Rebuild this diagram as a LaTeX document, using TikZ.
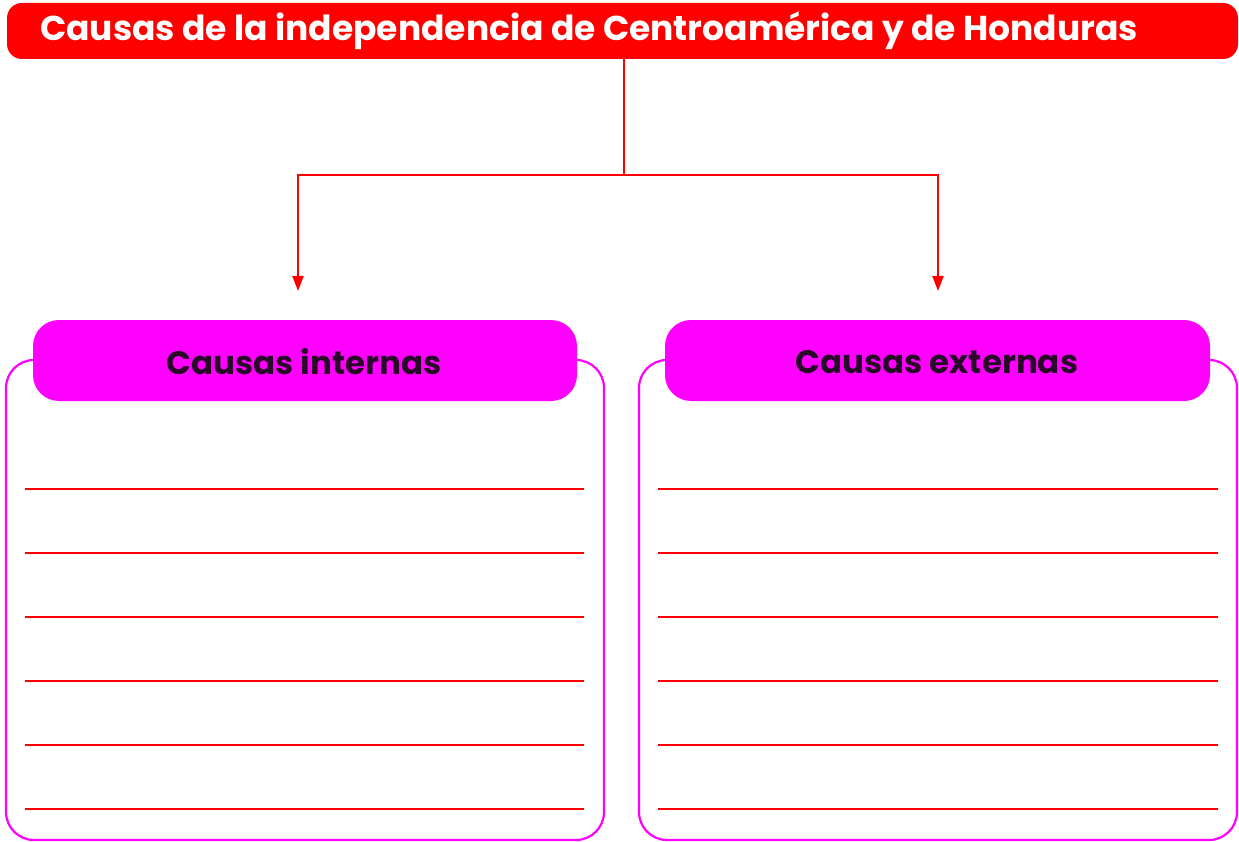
\documentclass[tikz,border=0pt]{standalone}
\usepackage{fontspec}
\setmainfont{Poppins}
\usetikzlibrary{arrows.meta}
\definecolor{tred}{RGB}{255,0,0}
\definecolor{mag}{RGB}{255,0,255}
\definecolor{dtext}{RGB}{40,10,40}
\tikzset{
  x=1pt,y=-1pt,
  titlebox/.style={fill=tred,rounded corners=15pt},
  headbox/.style={fill=mag,rounded corners=26pt},
  outerbox/.style={draw=mag,line width=2.2pt,rounded corners=28pt},
  wline/.style={draw=tred,line width=2pt},
  conn/.style={draw=tred,line width=2pt},
  arr/.style={conn,-{Triangle[length=15pt,width=11pt]}},
}
\begin{document}
\begin{tikzpicture}
\useasboundingbox (0,0) rectangle (1239,842);
% title
\path[titlebox] (7,3) rectangle (1238,59);
\node[font=\fontsize{34.5}{38}\selectfont\bfseries,text=white,anchor=west,inner sep=0pt] (title) at (40,31) {Causas de la independencia de Centroamérica y de Honduras};
\coordinate (tb) at (624,59);
\coordinate (j) at (624,175);
\coordinate (jl) at (298,175);
\coordinate (jr) at (938,175);
\coordinate (al) at (298,291);
\coordinate (ar) at (938,291);
\draw[conn] (tb) -- (j);
\draw[arr] (j) -- (jl) -- (al);
\draw[arr] (j) -- (jr) -- (ar);
% left panel
\draw[outerbox] (6,360) rectangle (604,840);
\path[headbox] (33,320) rectangle (577,401);
\node[font=\fontsize{32.5}{36}\selectfont\bfseries,text=dtext] (hl) at (304,362) {Causas internas};
% right panel
\draw[outerbox] (639,360) rectangle (1237,840);
\path[headbox] (665,320) rectangle (1210,401);
\node[font=\fontsize{32.5}{36}\selectfont\bfseries,text=dtext] (hr) at (937,362) {Causas externas};
\foreach \yy in {489,553,617,681,745,809}{
  \draw[wline] (25,\yy) -- (584,\yy);
  \draw[wline] (658,\yy) -- (1218,\yy);
}
\end{tikzpicture}
\end{document}
